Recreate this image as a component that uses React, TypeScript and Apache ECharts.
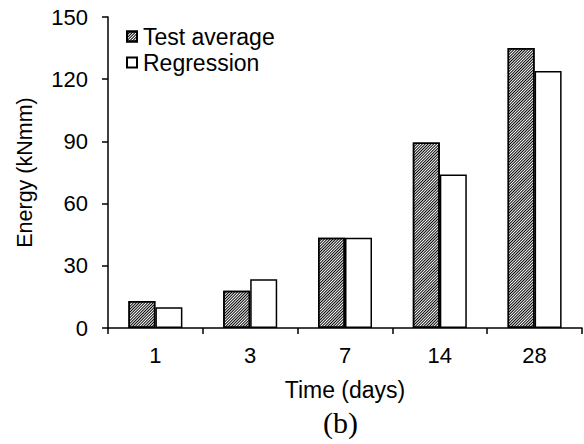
import React, { useEffect, useRef } from "react";
import * as echarts from "echarts";

const categories = ["1", "3", "7", "14", "28"];
const testAverage = [13, 18, 43.5, 89.5, 135];
const regression = [10, 23.5, 43.5, 74, 124];
const seriesNames = ["Test average", "Regression"];
const xTitle = "Time (days)";
const yTitle = "Energy (kNmm)";
const caption = "(b)";

const FONT = "'Liberation Sans', Arial, sans-serif";

export default function App() {
  const ref = useRef<HTMLDivElement>(null);
  useEffect(() => {
    if (!ref.current) return;
    const chart = echarts.init(ref.current, undefined, { renderer: "svg" });
    chart.setOption({
      animation: false,
      backgroundColor: "#fff",
      textStyle: { fontFamily: FONT, color: "#000" },
      grid: { left: 108, right: 2, top: 17, bottom: 116, containLabel: false },
      legend: {
        orient: "vertical",
        left: 121,
        top: 20,
        itemWidth: 10,
        itemHeight: 10,
        itemGap: 3,
        selectedMode: false,
        textStyle: { fontFamily: FONT, fontSize: 23, color: "#000", padding: [0, 0, 0, 1] },
        data: seriesNames.map((n) => ({ name: n, icon: "rect" })),
      },
      xAxis: {
        type: "category",
        data: categories,
        name: xTitle,
        nameLocation: "middle",
        nameGap: 50,
        nameTextStyle: { fontFamily: FONT, fontSize: 23, color: "#000" },
        axisLine: { lineStyle: { color: "#000", width: 1.5 } },
        axisTick: { show: true, length: 6, lineStyle: { color: "#000", width: 1.5 } },
        axisLabel: { fontFamily: FONT, fontSize: 22, color: "#000", margin: 16 },
      },
      yAxis: {
        type: "value",
        min: 0,
        max: 150,
        interval: 30,
        name: yTitle,
        nameLocation: "middle",
        nameGap: 72,
        nameTextStyle: { fontFamily: FONT, fontSize: 21.5, color: "#000" },
        axisLine: { show: true, lineStyle: { color: "#000", width: 1.5 } },
        axisTick: { show: true, length: 6, lineStyle: { color: "#000", width: 1.5 } },
        axisLabel: { fontFamily: FONT, fontSize: 22, color: "#000", margin: 20 },
        splitLine: { show: false },
      },
      graphic: [
        {
          type: "text",
          left: 323,
          top: 407,
          style: {
            text: caption,
            font: "30px 'Liberation Serif', 'Times New Roman', serif",
            fill: "#000",
          },
        },
      ],
      series: [
        {
          name: seriesNames[0],
          type: "bar",
          data: testAverage,
          barWidth: 27,
          barGap: "0%",
          itemStyle: {
            color: "#fff",
            borderColor: "#000",
            borderWidth: 1.5,
            decal: {
              symbol: "rect",
              symbolSize: 1,
              color: "#000",
              dashArrayX: [1, 0],
              dashArrayY: [1, 1],
              rotation: -Math.PI / 4,
            },
          },
        },
        {
          name: seriesNames[1],
          type: "bar",
          data: regression,
          barWidth: 27,
          barGap: "0%",
          itemStyle: { color: "#fff", borderColor: "#000", borderWidth: 1.5 },
        },
      ],
    });
    return () => chart.dispose();
  }, []);
  return (
    <div
      ref={ref}
      style={{ position: "fixed", left: 0, top: 0, width: 584, height: 444 }}
    />
  );
}
